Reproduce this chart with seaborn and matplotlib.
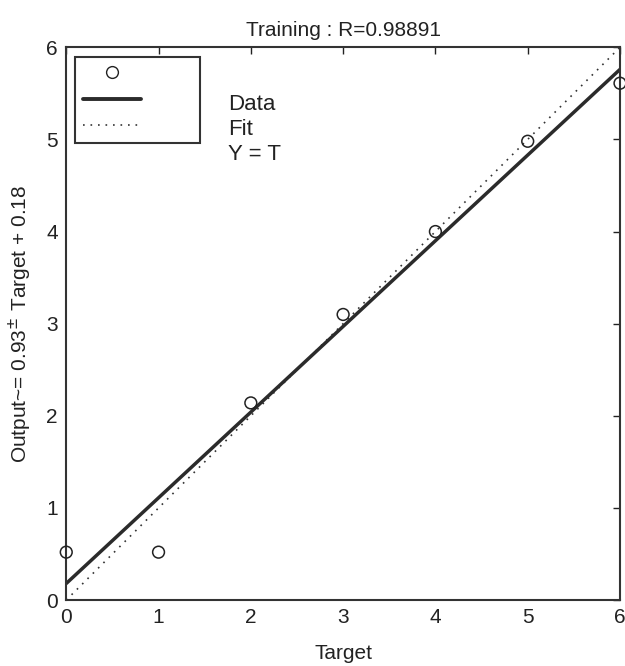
import pandas as pd
import seaborn as sns
import matplotlib.pyplot as plt
import matplotlib.lines as mlines
import numpy as np


sns.set_theme(style="white")
plt.rcParams['font.family'] = ['Liberation Sans Narrow', 'Liberation Sans', 'DejaVu Sans']

# values
target = [0, 1, 2, 3, 4, 5, 6]
output = [0.52, 0.52, 2.14, 3.10, 4.00, 4.98, 5.61]
fit_slope = 0.93
fit_icpt = 0.18
r_value = 0.98891
legend_labels = ["Data", "Fit", "Y = T"]

data = pd.DataFrame({"Target": target, "Output": output})
line_x = np.array([0, 6])
fit_df = pd.DataFrame({"x": line_x, "y": fit_slope * line_x + fit_icpt})
ident_df = pd.DataFrame({"x": line_x, "y": line_x})

fig = plt.figure(figsize=(6.25, 6.66), dpi=100)
ax = fig.add_axes([0.106, 0.099, 0.886, 0.830])

dots = (0, (1, 3.5))
sns.lineplot(data=ident_df, x="x", y="y", ax=ax, color="#333333",
             linestyle=dots, linewidth=1.2)
sns.lineplot(data=fit_df, x="x", y="y", ax=ax, color="#2b2b2b", linewidth=2.5)
sns.scatterplot(data=data, x="Target", y="Output", ax=ax, marker="o",
                s=72, facecolor="none", edgecolor="#222222", linewidth=1.1,
                clip_on=False, zorder=5)

ax.set_xlim(0, 6)
ax.set_ylim(0, 6)
ax.set_xticks(range(7))
ax.set_yticks(range(7))
ax.tick_params(direction="in", length=5, width=1, colors="#222222",
               labelsize=15, top=True, right=True, pad=6)
for sp in ax.spines.values():
    sp.set_color("#333333")
    sp.set_linewidth(1.5)

ax.set_xlabel("Target", fontsize=15, color="#222222", labelpad=12)
ax.set_ylabel("Output~= 0.93$^{\\pm}$ Target + 0.18", fontsize=15,
              color="#222222", labelpad=9)
ax.set_title("Training : R=%.5f" % r_value, fontsize=15, color="#222222", pad=8)

# legend box with the handles only; the labels sit outside it, as in the original
h_data = mlines.Line2D([], [], marker="o", linestyle="none", markersize=8.5,
                       markerfacecolor="none", markeredgecolor="#222222")
h_fit = mlines.Line2D([], [], color="#2b2b2b", linewidth=2.8)
h_id = mlines.Line2D([], [], color="#333333", linestyle=dots, linewidth=1.2)
leg = ax.legend([h_data, h_fit, h_id], [" ", " ", " "], loc="upper left",
                bbox_to_anchor=(0.0162, 0.982), borderaxespad=0, fontsize=15,
                handlelength=2.8, handletextpad=2.2, labelspacing=0.35,
                borderpad=0.35, fancybox=False, framealpha=1)
leg.get_frame().set_edgecolor("#333333")
leg.get_frame().set_linewidth(1.5)

ax.text(0.292, 0.915, "\n".join(legend_labels), transform=ax.transAxes,
        fontsize=16, color="#222222", va="top", ha="left", linespacing=1.24)

fig.savefig("out.png", dpi=100)
